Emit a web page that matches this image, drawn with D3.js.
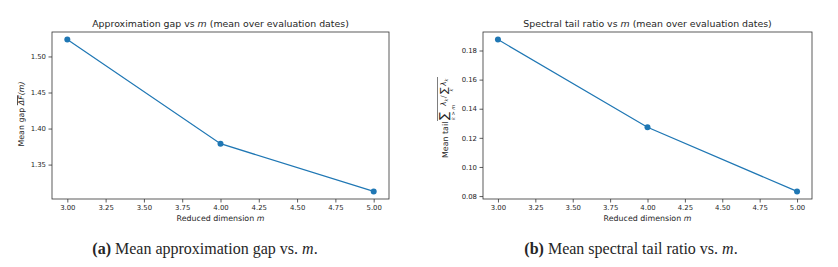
<!DOCTYPE html>
<html><head><meta charset="utf-8">
<script src="https://cdn.jsdelivr.net/npm/d3@7/dist/d3.min.js"></script>
<style>
body{margin:0;background:#fff;}
svg text{font-family:"DejaVu Sans",sans-serif;fill:#262626;}
</style></head>
<body>
<svg id="c" width="838" height="267"></svg>
<script>
const mValues = [3, 4, 5];
const gapValues = [1.5234, 1.3790, 1.3128];
const tailValues = [0.1875, 0.1273, 0.0832];
const xTicks = [3.00, 3.25, 3.50, 3.75, 4.00, 4.25, 4.50, 4.75, 5.00];
const gapTicks = [1.35, 1.40, 1.45, 1.50];
const tailTicks = [0.08, 0.10, 0.12, 0.14, 0.16, 0.18];
const titles = ["Approximation gap vs ", "Spectral tail ratio vs "];

const svg = d3.select("#c");
const color = "#1f77b4";

function panel(opt){
  const {x0,x1,y0,y1,vals,yTicks,title} = opt;
  const g = svg.append("g");
  const pad = (a)=>{const lo=d3.min(a),hi=d3.max(a),d=(hi-lo)*0.05;return [lo-d,hi+d];};
  const x = d3.scaleLinear().domain(pad(mValues)).range([x0,x1]);
  const y = d3.scaleLinear().domain(pad(vals)).range([y1,y0]);
  const xa = g.append("g").attr("transform",`translate(0,${y1})`)
    .call(d3.axisBottom(x).tickValues(xTicks).tickFormat(d3.format(".2f")).tickSize(3.5).tickPadding(2.5));
  const ya = g.append("g").attr("transform",`translate(${x0},0)`)
    .call(d3.axisLeft(y).tickValues(yTicks).tickFormat(d3.format(".2f")).tickSize(3.5).tickPadding(2.5));
  [xa,ya].forEach(a=>{a.select(".domain").remove();a.selectAll("line").attr("stroke","#333").attr("stroke-width",0.8);
    a.selectAll("text").attr("font-size","6.9px").attr("fill","#262626");});
  g.append("rect").attr("x",x0).attr("y",y0).attr("width",x1-x0).attr("height",y1-y0)
    .attr("fill","none").attr("stroke","#333").attr("stroke-width",0.8);
  const line = d3.line().x((d,i)=>x(mValues[i])).y(d=>y(d));
  g.append("path").datum(vals).attr("d",line).attr("fill","none").attr("stroke",color).attr("stroke-width",1.2);
  g.selectAll("circle.p").data(vals).join("circle").attr("cx",(d,i)=>x(mValues[i])).attr("cy",d=>y(d)).attr("r",3).attr("fill",color);
  const t = g.append("text").attr("x",(x0+x1)/2).attr("y",y0-5).attr("text-anchor","middle").attr("font-size","9.4px");
  t.append("tspan").text(title);
  t.append("tspan").attr("font-style","italic").text("m");
  t.append("tspan").text(" (mean over evaluation dates)");
  const xl = g.append("text").attr("x",(x0+x1)/2).attr("y",y1+22).attr("text-anchor","middle").attr("font-size","7.9px");
  xl.append("tspan").text("Reduced dimension ");
  xl.append("tspan").attr("font-style","italic").text("m");
  return g;
}

panel({x0:52,x1:389,y0:32,y1:199,vals:gapValues,yTicks:gapTicks,title:titles[0]});
panel({x0:483,x1:812,y0:32,y1:199,vals:tailValues,yTicks:tailTicks,title:titles[1]});

// Left y label
{
  const t = svg.append("text").attr("transform","translate(24,114) rotate(-90)").attr("text-anchor","middle").attr("font-size","7.9px");
  t.append("tspan").text("Mean gap ");
  t.append("tspan").attr("font-style","italic").style("text-decoration","overline").text("ΔF");
  t.append("tspan").attr("font-style","italic").text("(m)");
}
// Right y label
{
  const g = svg.append("g").attr("transform","translate(448,158) rotate(-90)");
  g.append("text").attr("x",0).attr("y",0).attr("font-size","7.9px").text("Mean tail");
  g.append("text").attr("x",38).attr("y",0).attr("font-size","12px").text("∑");
  g.append("text").attr("x",38).attr("y",6.5).attr("font-size","5px").attr("font-style","italic").text("k > m");
  g.append("text").attr("x",52).attr("y",-2).attr("font-size","7.5px").attr("font-style","italic").text("λ");
  g.append("text").attr("x",56.5).attr("y",0).attr("font-size","5px").attr("font-style","italic").text("k");
  g.append("text").attr("x",60).attr("y",-2).attr("font-size","7.5px").text("/");
  g.append("text").attr("x",64).attr("y",-1.5).attr("font-size","10px").text("∑");
  g.append("text").attr("x",66.5).attr("y",5).attr("font-size","5px").attr("font-style","italic").text("k");
  g.append("text").attr("x",72).attr("y",-2).attr("font-size","7.5px").attr("font-style","italic").text("λ");
  g.append("text").attr("x",76.5).attr("y",0).attr("font-size","5px").attr("font-style","italic").text("k");
  g.append("line").attr("x1",37).attr("x2",81).attr("y1",-10.5).attr("y2",-10.5).attr("stroke","#262626").attr("stroke-width",0.6);
}
// Captions
function caption(cx, letter, text){
  const t = svg.append("text").attr("x",cx).attr("y",254).attr("text-anchor","middle")
    .attr("font-size","16px").style("font-family","'Liberation Serif','Times New Roman',serif").attr("fill","#000");
  t.append("tspan").attr("font-weight","bold").text("("+letter+")");
  t.append("tspan").text(" "+text+" vs. ");
  t.append("tspan").attr("font-style","italic").text("m");
  t.append("tspan").text(".");
}
caption(205,"a","Mean approximation gap");
caption(631,"b","Mean spectral tail ratio");
</script>
</body></html>
